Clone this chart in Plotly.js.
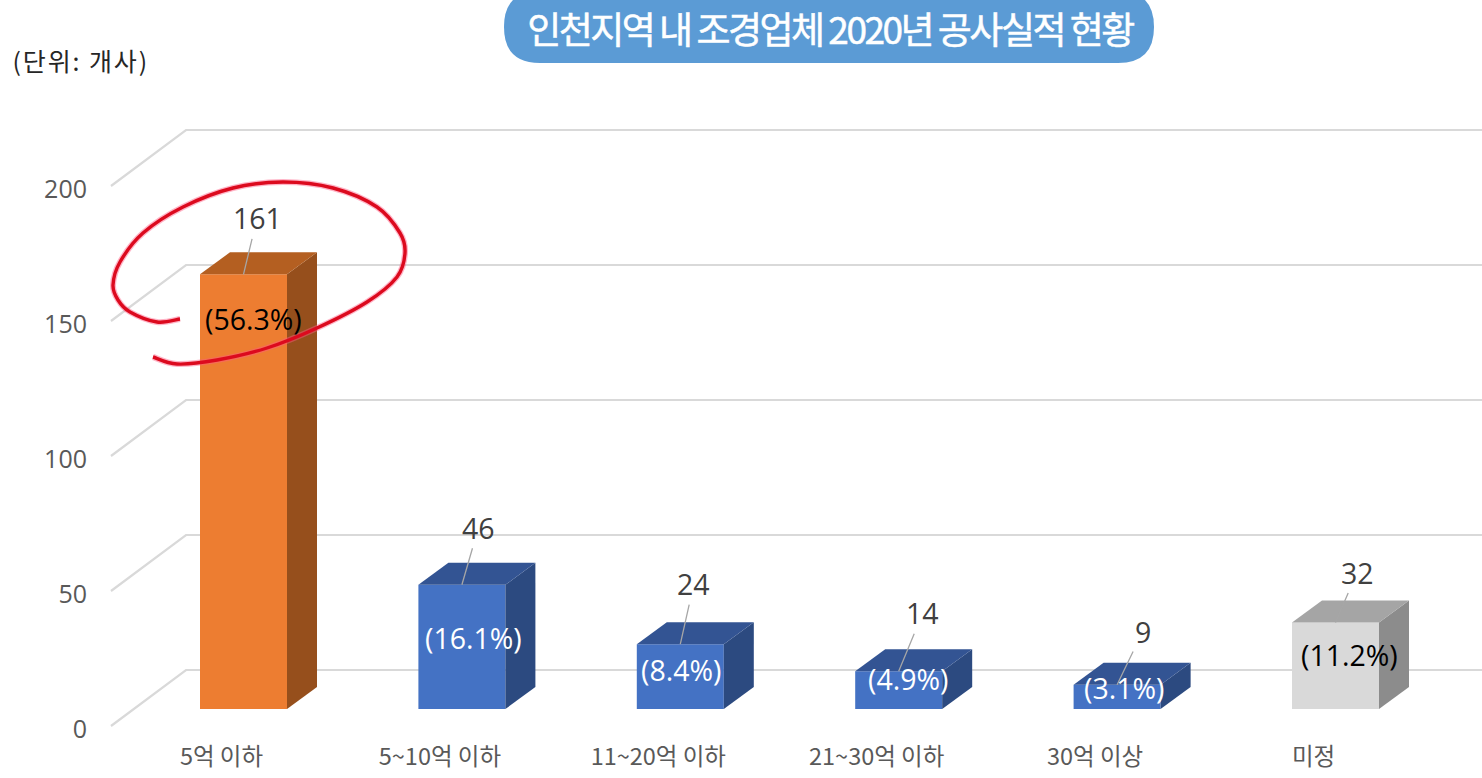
<!DOCTYPE html>
<html><head><meta charset="utf-8">
<script src="https://cdn.plot.ly/plotly-3.0.1.min.js"></script>
<style>html,body{margin:0;padding:0;background:#fff;overflow:hidden}#c{width:1482px;height:778px}
.gtitle{letter-spacing:-2.5px;stroke:#fff;stroke-width:0.5px}
g.annotation[data-index="12"] text{letter-spacing:1.9px}
</style>
</head><body><div id="c"></div>
<script>
// ---- data ----
const categories = ['5억 이하','5~10억 이하','11~20억 이하','21~30억 이하','30억 이상','미정'];
const counts = [161,46,24,14,9,32];
const shares = ['(56.3%)','(16.1%)','(8.4%)','(4.9%)','(3.1%)','(11.2%)'];
const yTicks = [0,50,100,150,200];
const titleText = '인천지역 내 조경업체 2020년 공사실적 현황';
const unitText = '(단위: 개사)';

// ---- styles per bar ----
const faceFront = ['#ed7d31','#4472c4','#4472c4','#4472c4','#4472c4','#d9d9d9'];
const faceSide  = ['#964f1c','#2c4a80','#2c4a80','#2c4a80','#2c4a80','#8c8c8c'];
const faceTop   = ['#b45f21','#335493','#335493','#335493','#335493','#a5a5a5'];
const shareColor= ['#000','#fff','#fff','#fff','#fff','#000'];

// ---- page geometry ----
const W=1482,H=778, ml=100, mb=38;
const catPx=218.4, firstPx=243.5, unitPx=2.7, frontZeroPx=726, barZeroPx=709;
const xOf=p=>(p-firstPx)/catPx;
const plotB=H-mb;
const xRange=[xOf(ml),xOf(W)];
const yRange=[(frontZeroPx-plotB)/unitPx, frontZeroPx/unitPx];
const barShift=(frontZeroPx-barZeroPx)/unitPx;
const y2Range=[yRange[0]-barShift,yRange[1]-barShift];
const barW=87/catPx, depthX=30/catPx, depthY=22/unitPx;
const wallDY=56/unitPx;
const px=p=>(p-ml)/(W-ml), py=p=>(plotB-p)/plotB;

// label placement (pixel offsets from the bar's front-top-centre)
const valueDX=[13.5,16.5,13.5,24,25.5,21.5];
const valueDY=[-56,-57,-60,-58,-53,-50];
const shareDX=[9.5,11.5,0.5,9,6.5,13.5];
const shareDY=[45,53,26,8,3,32];

const idx=categories.map((_,i)=>i);
const traces=[];
// wall and floor grid
yTicks.forEach(t=>traces.push({type:'scatter',mode:'lines',xaxis:'x',yaxis:'y',
  x:[xOf(111),xOf(186),xOf(W)],y:[t,t+wallDY,t+wallDY],
  line:{color:'#d9d9d9',width:2.2},hoverinfo:'skip',showlegend:false}));
// front faces
traces.push({type:'bar',xaxis:'x',yaxis:'y2',x:idx,y:counts,width:barW,
  marker:{color:faceFront,line:{width:0}},hoverinfo:'skip',showlegend:false});
// side and top faces
counts.forEach((v,i)=>{
  const l=i-barW/2,r=i+barW/2;
  traces.push({type:'scatter',mode:'lines',fill:'toself',xaxis:'x',yaxis:'y2',
    x:[r,r+depthX,r+depthX,r,r],y:[0,depthY,v+depthY,v,0],
    fillcolor:faceSide[i],line:{width:0,color:faceSide[i]},hoverinfo:'skip',showlegend:false});
  traces.push({type:'scatter',mode:'lines',fill:'toself',xaxis:'x',yaxis:'y2',
    x:[l,r,r+depthX,l+depthX,l],y:[v,v,v+depthY,v+depthY,v],
    fillcolor:faceTop[i],line:{width:0,color:faceTop[i]},hoverinfo:'skip',showlegend:false});
});

const labelFont='"Open Sans",sans-serif';
const annotations=[];
counts.forEach((v,i)=>{
  annotations.push({xref:'x',yref:'y2',x:i,y:v,text:String(v),showarrow:true,arrowhead:0,
    arrowwidth:1.3,arrowcolor:'#a6a6a6',standoff:0,ax:valueDX[i],ay:valueDY[i],axref:'pixel',ayref:'pixel',
    font:{family:labelFont,size:28.5,color:'#404040'},xanchor:'center',yanchor:'middle'});
  annotations.push({xref:'x',yref:'y2',x:i,y:v,text:shares[i],showarrow:false,
    xshift:shareDX[i],yshift:-shareDY[i],
    font:{family:labelFont,size:28.5,color:shareColor[i]},xanchor:'center',yanchor:'middle'});
});
annotations.push({xref:'paper',yref:'paper',x:px(17.5),y:py(60),xanchor:'left',yanchor:'middle',
  text:unitText,showarrow:false,font:{family:'"Noto Sans CJK KR",sans-serif',size:25,color:'#262626'}});

// callout pill behind the title
const pL=504,pR=1154,pT=-9,pB=63,r=36;
const P=(x,y)=>px(x)+' '+py(y);
const pill='M '+P(pL+r,pT)+' L '+P(pR-r,pT)+' Q '+P(pR,pT)+' '+P(pR,pT+r)+' Q '+P(pR,pB)+' '+P(pR-r,pB)+
  ' L '+P(pL+r,pB)+' Q '+P(pL,pB)+' '+P(pL,pB-r)+' Q '+P(pL,pT)+' '+P(pL+r,pT)+' Z';

// hand-drawn red ring
const ring=[[180,319],[157,322],[130,312],[118,300],[113,285],[120,262],[143,233],[183,207],[233,188],[283,182],[333,188],[377,207],[400,233],[405,253],[397,277],[367,302],[317,328],[267,348],[217,360],[177,364],[153,357]];
let ringPath='M '+P(ring[0][0],ring[0][1]);
for(let i=0;i<ring.length-1;i++){
  const a=ring[Math.max(i-1,0)],b=ring[i],c=ring[i+1],d=ring[Math.min(i+2,ring.length-1)];
  ringPath+=' C '+P(b[0]+(c[0]-a[0])/6,b[1]+(c[1]-a[1])/6)+' '+P(c[0]-(d[0]-b[0])/6,c[1]-(d[1]-b[1])/6)+' '+P(c[0],c[1]);
}

const layout={
  width:W,height:H,paper_bgcolor:'#fff',plot_bgcolor:'rgba(0,0,0,0)',showlegend:false,hovermode:false,
  margin:{l:ml,r:0,t:0,b:mb,pad:0},
  title:{text:titleText,x:830/W,xanchor:'center',y:1-31/H,yanchor:'middle',
    font:{family:'"Noto Sans CJK KR",sans-serif',size:37,color:'#fff',weight:400}},
  xaxis:{type:'linear',range:xRange,tickmode:'array',tickvals:idx.map(i=>i-22/catPx),ticktext:categories,
    showgrid:false,zeroline:false,showline:false,ticks:'',
    tickfont:{family:'"Noto Sans CJK KR",sans-serif',size:23.5,color:'#595959'}},
  yaxis:{range:yRange,tickmode:'array',tickvals:yTicks,ticktext:yTicks.map(String),
    showgrid:false,zeroline:false,showline:false,ticks:'outside',ticklen:7,tickcolor:'rgba(0,0,0,0)',ticklabelshift:3,
    tickfont:{family:labelFont,size:25,color:'#595959'}},
  yaxis2:{range:y2Range,overlaying:'y',side:'left',visible:false,showgrid:false,zeroline:false},
  shapes:[
    {type:'path',xref:'paper',yref:'paper',path:pill,fillcolor:'#5b9bd5',line:{width:0},layer:'above'},
    {type:'path',xref:'paper',yref:'paper',path:ringPath,line:{color:'rgba(255,90,130,0.45)',width:6},fillcolor:'rgba(0,0,0,0)',layer:'above'},
    {type:'path',xref:'paper',yref:'paper',path:ringPath,line:{color:'#dc0a1e',width:3.4},fillcolor:'rgba(0,0,0,0)',layer:'above'}
  ],
  annotations
};
Plotly.newPlot('c',traces,layout,{staticPlot:true,displayModeBar:false});
</script></body></html>
